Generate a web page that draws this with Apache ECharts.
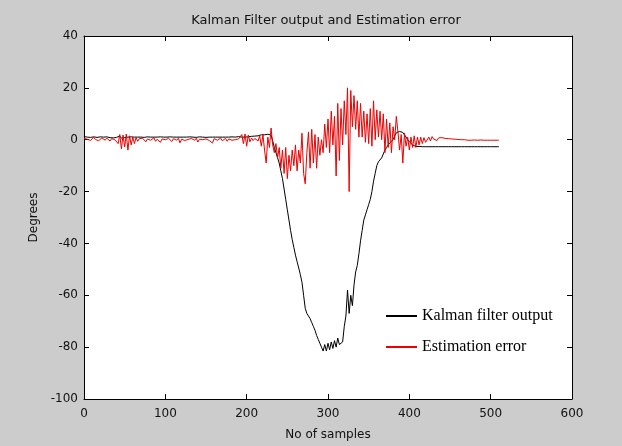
<!DOCTYPE html>
<html>
<head>
<meta charset="utf-8">
<script src="https://cdn.jsdelivr.net/npm/echarts@6/dist/echarts.min.js"></script>
<style>
  html, body { margin: 0; padding: 0; background: #cccccc; }
  #chart { width: 622px; height: 446px; }
</style>
</head>
<body>
<div id="chart"></div>
<script>
// Sample spacing of the stored series (every 2nd sample, 0 .. 510)
const sampleStep = 2;

// Axis ticks
const xTicks = [0, 100, 200, 300, 400, 500, 600];
const yTicks = [-100, -80, -60, -40, -20, 0, 20, 40];

// Kalman filter output (degrees)
const kalmanOutput = [
  // 0 - 208
  1.2, 1.1, 1.0, 1.1, 0.9, 1.0, 1.1, 1.0, 0.9, 1.0,
  1.1, 1.0, 1.0, 0.9, 1.1, 1.2, 0.8, 1.3, 0.7, 1.2,
  0.9, 1.0, 1.4, 0.6, 1.3, 0.8, 1.1, 1.0, 0.9, 1.1,
  1.0, 1.0, 0.9, 1.0, 1.1, 1.0, 1.0, 0.9, 1.0, 1.1,
  1.0, 1.0, 1.1, 1.0, 0.9, 1.0, 1.0, 1.1, 1.0, 1.0,
  0.9, 1.0, 1.0, 1.1, 1.0, 1.0, 0.9, 1.0, 1.1, 1.0,
  1.0, 1.0, 0.9, 1.0, 1.0, 1.1, 1.0, 1.0, 1.0, 0.9,
  1.0, 1.1, 1.0, 1.0, 1.0, 0.9, 1.0, 1.0, 1.1, 1.0,
  1.0, 1.0, 0.9, 1.0, 1.1, 1.0, 1.0, 1.0, 0.9, 1.0,
  1.0, 1.1, 1.0, 1.0, 1.0, 1.2, 1.0, 1.0, 1.1, 1.0,
  1.0, 1.1, 1.2, 1.3, 1.5,
  // 210 - 230
  1.4, 1.4, 1.5, 1.6, 1.9, 2.0, 1.9, 2.0, 2.1, 2.0, 1.8,
  // 232 - 290
  -0.5, -3, -5, -7, -9, -12, -15, -19, -23, -27,
  -31, -35, -38.5, -41.5, -44.5, -47, -49.5, -52, -55, -60,
  -65, -67, -68, -69, -70.5, -72, -73.5, -75.5, -77, -78.5,
  // 292 - 352
  -80, -81.5, -79, -81.5, -78.5, -81, -78, -80.5, -77.5, -80,
  -76.5, -79, -79.5, -78, -72, -68, -58, -67, -60, -64,
  -56, -51, -48.5, -44, -39, -35, -31, -29, -27, -25, -23,
  // 354 - 420
  -20, -16, -13, -10, -8.5, -8, -7, -5.5, -4, -3,
  -2, -1.2, -0.5, 0, 1.5, 2.7, 3, 3.2, 3.2, 2.8,
  2.2, 1, 0, -0.8, -1.5, -2, -2.4, -2.6, -2.6, -2.6,
  -2.6, -2.7, -2.6, -2.7,
  // 422 - 510
  -2.7, -2.7, -2.6, -2.7, -2.7, -2.7, -2.7, -2.7, -2.7, -2.7,
  -2.7, -2.7, -2.7, -2.7, -2.7, -2.7, -2.7, -2.7, -2.7, -2.7,
  -2.7, -2.7, -2.7, -2.7, -2.7, -2.7, -2.7, -2.7, -2.7, -2.7,
  -2.7, -2.7, -2.7, -2.7, -2.7, -2.7, -2.7, -2.7, -2.7, -2.7,
  -2.7, -2.7, -2.7, -2.7, -2.7
];

// Estimation error (degrees)
const estimationError = [
  // 0 - 40
  0.5, 0.8, 0.2, 0.6, -0.3, 0.4, 0.9, 0.1, 0.5, -0.4,
  0.3, 0.7, 0.2, -0.2, 0.6, 0.3, -0.5, 0.4, 0.8, 0.0, 0.5,
  // 42 - 66
  -1.5, 2.0, -3.5, 1.8, -2.8, 2.2, -4.0, 1.5, -2.0, 1.0, -1.5, 0.8, -0.6,
  // 68 - 190
  0.4, -0.3, 0.6, 0.2, -0.8, 0.3, 0.5, -0.2, 0.1, 0.7,
  -0.6, 0.2, 0.4, -1.0, 0.3, 0.6, 0.0, -0.4, 0.5, 0.2,
  -0.7, 0.4, 0.3, -0.2, 0.6, -1.2, 0.2, 0.5, -0.3, 0.4,
  0.1, -0.6, 0.5, 0.3, -0.2, 0.6, -0.9, 0.2, 0.4, 0.0,
  -0.5, 0.3, 0.6, -0.3, 0.2, -1.3, 0.4, 0.5, -0.2, 0.3,
  0.6, -0.4, 0.1, 0.5, -0.6, 0.3, 0.4, -0.2, 0.5, 0.0,
  -0.4, 0.3,
  // 192 - 212
  0.5, 2.0, -1.5, 2.2, -2.5, 1.8, -0.8, 0.6, -0.3, 0.5, 1.2,
  // 214 - 230
  -0.5, 1.5, -2.5, 2.0, -4.0, -9.0, 1.0, -3.0, 4.5,
  // 232 - 300
  -2, -5, -1.5, -7, -3, -11, -4, -13, -3, -15,
  -6, -12, -4, -10, -2, -12, -4, -9, 2.5, -13,
  -17, -5, 3, -11, 4, -9, 2, -11, 1, -6,
  0, -5, 6, -3, 8,
  // 302 - 420
  -5, 11, -2, 9, -14, 14, -8, 12, -2, 15,
  2, 20, -20, 19, 5, 17, 4, 15, 1, 14,
  1, 11, -1, 10, -1.5, 12, -2.5, 15, 0, 11.5,
  1, 11, 0, 10, -5, 8, -3, 6.5, -5, 5,
  0, 9, 3, -4, 2, -9, 2.5, -2.5, 1, -4,
  1, -3, 1.5, -3, 1, -2, 1, -1.5, 0.8, -1,
  // 422 - 510
  -0.8, 1.0, -0.5, 1.2, 0.2, 0.9, -0.3, 0.7, 0.3, 0.8,
  0.1, 0.5, -0.2, 0.4, 0.0, 0.3, -0.1, 0.2, -0.2, 0.1,
  -0.1, 0.0, -0.2, 0.0, -0.1, -0.2, -0.1, -0.2, -0.2, -0.1,
  -0.2, -0.2, -0.2, -0.1, -0.2, -0.2, -0.2, -0.2, -0.2, -0.2,
  -0.2, -0.2, -0.2, -0.2, -0.2
];

const seriesNames = ['Kalman filter output', 'Estimation error'];

const toPairs = arr => arr.map((v, i) => [i * sampleStep, v]);

const sansFont = 'DejaVu Sans, sans-serif';
const labelStyle = { fontFamily: sansFont, fontSize: 12, color: '#111' };

function boxAxis(ticks, position, extra) {
  return Object.assign({
    type: 'value',
    position: position,
    min: ticks[0],
    max: ticks[ticks.length - 1],
    interval: ticks[1] - ticks[0],
    axisLine: { show: true, onZero: false, lineStyle: { color: '#000', width: 1 } },
    axisTick: { show: true, inside: true, length: 5, lineStyle: { color: '#000', width: 1 } },
    axisLabel: { show: false },
    splitLine: { show: false }
  }, extra || {});
}

const chart = echarts.init(document.getElementById('chart'), null, { renderer: 'canvas' });

chart.setOption({
  animation: false,
  backgroundColor: '#cccccc',
  title: {
    text: 'Kalman Filter output and Estimation error',
    left: 326,
    top: 14,
    padding: 0,
    textAlign: 'center',
    textStyle: { fontFamily: sansFont, fontSize: 13, fontWeight: 'normal', color: '#111' }
  },
  grid: {
    left: 84, top: 36, width: 488, height: 364,
    show: true, backgroundColor: '#ffffff', borderWidth: 0
  },
  legend: {
    data: seriesNames,
    orient: 'vertical',
    left: 386,
    top: 307,
    padding: 0,
    icon: 'rect',
    itemWidth: 31,
    itemHeight: 2,
    itemGap: 13,
    textStyle: {
      fontFamily: 'Liberation Serif, Times New Roman, serif',
      fontSize: 16,
      color: '#000',
      lineHeight: 18
    }
  },
  xAxis: [
    boxAxis(xTicks, 'bottom', {
      axisLabel: Object.assign({ show: true, margin: 9 }, labelStyle),
      name: 'No of samples',
      nameLocation: 'middle',
      nameGap: 30,
      nameTextStyle: labelStyle
    }),
    boxAxis(xTicks, 'top')
  ],
  yAxis: [
    boxAxis(yTicks, 'left', {
      axisLabel: Object.assign({ show: true, margin: 6 }, labelStyle),
      name: 'Degrees',
      nameLocation: 'middle',
      nameGap: 42,
      nameTextStyle: labelStyle
    }),
    boxAxis(yTicks, 'right')
  ],
  series: [
    {
      name: seriesNames[0],
      type: 'line',
      xAxisIndex: 0,
      yAxisIndex: 0,
      data: toPairs(kalmanOutput),
      showSymbol: false,
      lineStyle: { color: '#000000', width: 1 },
      itemStyle: { color: '#000000' }
    },
    {
      name: seriesNames[1],
      type: 'line',
      xAxisIndex: 0,
      yAxisIndex: 0,
      data: toPairs(estimationError),
      showSymbol: false,
      lineStyle: { color: '#ee0000', width: 1 },
      itemStyle: { color: '#ee0000' }
    }
  ]
});
</script>
</body>
</html>
